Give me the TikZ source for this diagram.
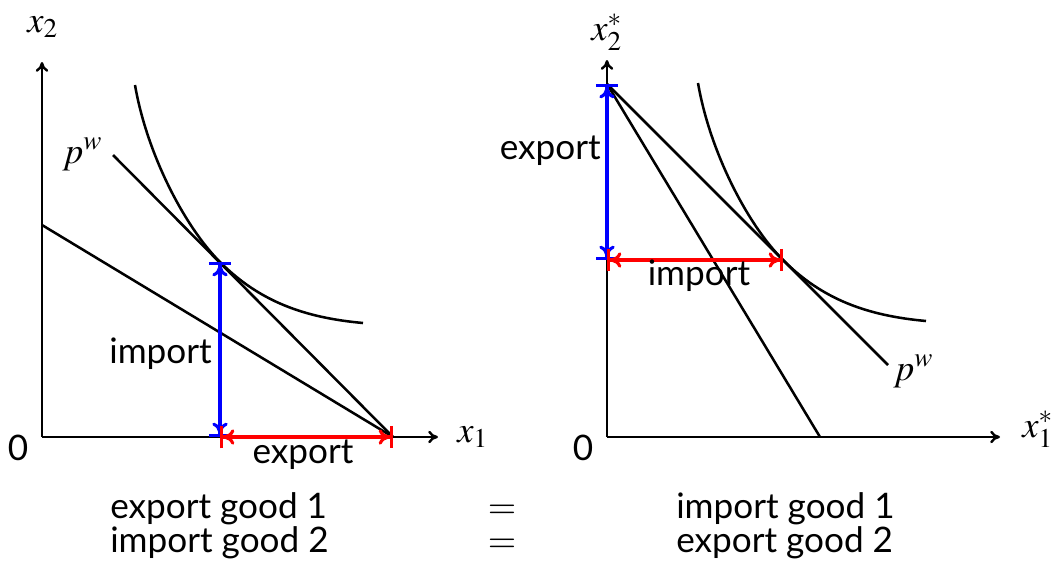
\documentclass[tikz,border=0pt]{standalone}
\usepackage{mathptmx}
\usepackage[no-math]{fontspec}
\setmainfont{Lato}
\setsansfont{Lato}
\usetikzlibrary{arrows.meta, positioning}

\begin{document}
\begin{tikzpicture}[
    x=0.025cm, y=-0.025cm,
    axis/.style={-{To[length=7pt,width=9pt]}, line width=1.7pt},
    curve/.style={line width=1.8pt},
    budget/.style={line width=1.8pt},
    flow/.style={line width=2.2pt, {Bar[width=16pt]To[length=8pt,width=11pt]}-{To[length=8pt,width=11pt]Bar[width=16pt]}},
    txt/.style={font=\fontsize{25}{30}\selectfont, inner sep=0pt},
    var/.style={font=\fontsize{26}{30}\selectfont, inner sep=0pt}
]
    \useasboundingbox (0,0) rectangle (1054,561);

    % home country
    \coordinate (O1) at (42,437);
    \coordinate (Y1) at (42,62);
    \coordinate (X1) at (438,437);
    \coordinate (P1) at (220,262);
    \coordinate (F1) at (220,437);
    \coordinate (C1) at (393,437);
    \coordinate (W1) at (113,155);
    \coordinate (A1) at (42,225);

    \draw[axis] (O1) -- (Y1);
    \draw[axis] (O1) -- (X1);
    \draw[budget] (W1) -- (C1);
    \draw[budget] (A1) -- (C1);
    \draw[curve] (135,85) .. controls (146.9,154) and (184.6,226.6) .. (P1)
                          .. controls (258.9,300.9) and (303.2,317.6) .. (363,323);
    \draw[flow, blue] (P1) -- (F1);
    \draw[flow, red] (F1) -- (C1);

    \node[txt, anchor=base] (zero1) at (18,460) {0};
    \node[var, anchor=base west] (x1) at (457,442) {$x_1$};
    \node[var, anchor=base west] (x2) at (27,32) {$x_2$};
    \node[var, anchor=base west] (pw1) at (62,163) {$p^w$};
    \node[txt, anchor=base east] (imp1) at (212,363) {import};
    \node[txt, anchor=base] (exp1) at (303,463) {export};

    % foreign country
    \coordinate (O2) at (607,437);
    \coordinate (Y2) at (607,60);
    \coordinate (X2) at (1000,437);
    \coordinate (P2) at (607,84);
    \coordinate (F2) at (607,260);
    \coordinate (C2) at (783,260);
    \coordinate (W2) at (888,365);
    \coordinate (A2) at (820,437);

    \draw[axis] (O2) -- (Y2);
    \draw[axis] (O2) -- (X2);
    \draw[budget] (P2) -- (W2);
    \draw[budget] (P2) -- (A2);
    \draw[curve] (698,83) .. controls (709.9,152) and (747.6,224.6) .. (C2)
                          .. controls (821.9,298.9) and (866.2,315.6) .. (926,321);
    \draw[flow, blue] (P2) -- (F2);
    \draw[flow, red] (F2) -- (C2);

    \node[txt, anchor=base] (zero2) at (583,460) {0};
    \node[var, anchor=base west] (x1s) at (1022,437) {$x_1^*$};
    \node[var, anchor=base west] (x2s) at (591,40) {$x_2^*$};
    \node[var, anchor=base west] (pw2) at (893,380) {$p^w$};
    \node[txt, anchor=base east] (exp2) at (601,159) {export};
    \node[txt, anchor=base] (imp2) at (699,285) {import};

    % balance of trade
    \node[txt, anchor=base west] (row1a) at (110,518) {export good 1};
    \node[txt, anchor=base west] (row2a) at (110,552) {import good 2};
    \node[var, anchor=base] (row1b) at (502,518) {$=$};
    \node[var, anchor=base] (row2b) at (502,552) {$=$};
    \node[txt, anchor=base west] (row1c) at (676,518) {import good 1};
    \node[txt, anchor=base west] (row2c) at (676,552) {export good 2};
\end{tikzpicture}
\end{document}
